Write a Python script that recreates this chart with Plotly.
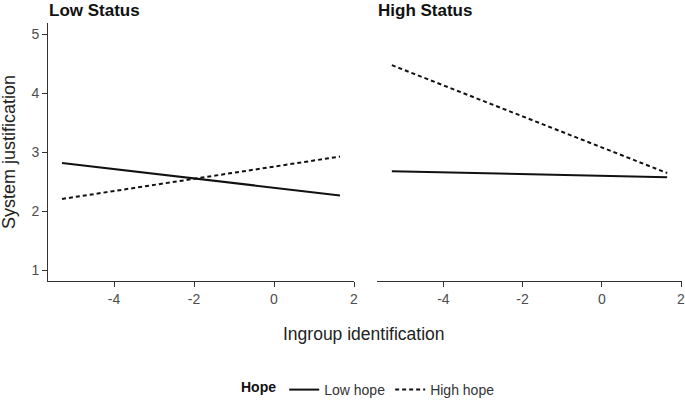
import plotly.graph_objects as go

x_vals = [-5.3, 1.65]
low_status_low_hope = [2.82, 2.27]
low_status_high_hope = [2.21, 2.93]
high_status_low_hope = [2.68, 2.58]
high_status_high_hope = [4.48, 2.65]

x_ticks = [-4, -2, 0, 2]
x_tick_labels = ["-4", "-2", "0", "2"]
y_ticks = [1, 2, 3, 4, 5]
y_tick_labels = ["1", "2", "3", "4", "5"]

FONT = "Liberation Sans, Arial, sans-serif"
W, H = 685, 406

fig = go.Figure()
line_col = "#111111"
DASH = "4px,3px"
fig.add_trace(go.Scatter(x=x_vals, y=low_status_low_hope, mode="lines", name="Low hope",
                         line=dict(color=line_col, width=2), xaxis="x", yaxis="y", legendgroup="low"))
fig.add_trace(go.Scatter(x=x_vals, y=low_status_high_hope, mode="lines", name="High hope",
                         line=dict(color=line_col, width=2, dash=DASH), xaxis="x", yaxis="y", legendgroup="high"))
fig.add_trace(go.Scatter(x=x_vals, y=high_status_low_hope, mode="lines", name="Low hope",
                         line=dict(color=line_col, width=2), xaxis="x2", yaxis="y2", showlegend=False, legendgroup="low"))
fig.add_trace(go.Scatter(x=x_vals, y=high_status_high_hope, mode="lines", name="High hope",
                         line=dict(color=line_col, width=2, dash=DASH), xaxis="x2", yaxis="y2", showlegend=False, legendgroup="high"))

ydom = [(H - 285) / H, (H - 23) / H]
yr = [0.81, 5.2]
axis_common = dict(showgrid=False, zeroline=False, ticks="outside", ticklen=5, tickcolor="#333333",
                   linecolor="#333333", linewidth=1, showline=True,
                   tickfont=dict(family=FONT, size=14, color="#4d4d4d"))

fig.update_layout(
    width=W, height=H,
    margin=dict(l=0, r=0, t=0, b=0),
    paper_bgcolor="white", plot_bgcolor="white",
    showlegend=True,
    xaxis=dict(domain=[48 / W, 354 / W], range=[-5.65, 2.0], tickvals=x_ticks, ticktext=x_tick_labels,
               anchor="y", automargin=False, ticklabeloverflow="allow", **axis_common),
    yaxis=dict(domain=ydom, range=yr, tickvals=y_ticks, ticktext=y_tick_labels,
               anchor="x", automargin=False, **axis_common),
    xaxis2=dict(domain=[377 / W, 682 / W], range=[-5.675, 2.025], tickvals=x_ticks, ticktext=x_tick_labels,
                anchor="y2", automargin=False, ticklabeloverflow="allow", **axis_common),
    yaxis2=dict(domain=ydom, range=yr, anchor="x2", showgrid=False, zeroline=False, showline=False,
                showticklabels=False, ticks="", automargin=False),
    legend=dict(orientation="h", x=239 / W, xanchor="left", y=(H - 395) / H, yanchor="middle",
                title=dict(text="<b>Hope</b>", font=dict(family=FONT, size=14, color="#111111")),
                font=dict(family=FONT, size=14, color="#333333"),
                itemwidth=30, tracegroupgap=0, bgcolor="rgba(0,0,0,0)"),
    annotations=[
        dict(text="<b>Low Status</b>", x=47 / W, y=(H - 10.5) / H, xref="paper", yref="paper",
             xanchor="left", yanchor="middle", showarrow=False,
             font=dict(family=FONT, size=17, color="#111111")),
        dict(text="<b>High Status</b>", x=376 / W, y=(H - 10.5) / H, xref="paper", yref="paper",
             xanchor="left", yanchor="middle", showarrow=False,
             font=dict(family=FONT, size=17, color="#111111")),
        dict(text="System justification", x=9 / W, y=(H - 154) / H, xref="paper", yref="paper",
             xanchor="center", yanchor="middle", showarrow=False, textangle=-90,
             font=dict(family=FONT, size=18, color="#222222")),
        dict(text="Ingroup identification", x=364 / W, y=(H - 338) / H, xref="paper", yref="paper",
             xanchor="center", yanchor="middle", showarrow=False,
             font=dict(family=FONT, size=17.5, color="#222222")),
    ],
)

fig.write_html("out.html", config={"displayModeBar": False},
               post_script="document.body.style.margin='0px';")
